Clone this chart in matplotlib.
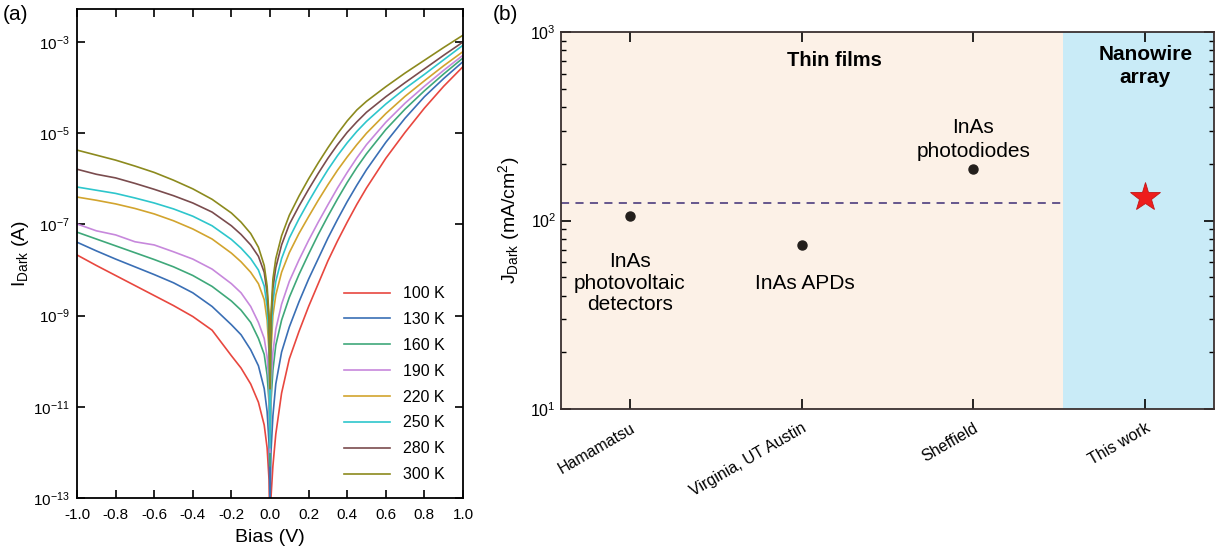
import numpy as np
import matplotlib
matplotlib.use('Agg')
import matplotlib.pyplot as plt
from matplotlib.ticker import FixedLocator, NullLocator, LogLocator, NullFormatter

plt.rcParams['font.family'] = ['Liberation Sans', 'DejaVu Sans']
plt.rcParams['mathtext.default'] = 'regular'

# ---- panel (a): dark current vs bias, log10(I) ----
bias = [-1.0, -0.9, -0.8, -0.7, -0.6, -0.5, -0.4, -0.3, -0.2, -0.15, -0.1, -0.06,
        -0.03, -0.015, -0.005, 0.0, 0.005, 0.015, 0.03, 0.06, 0.1, 0.15, 0.2, 0.25,
        0.3, 0.35, 0.4, 0.45, 0.5, 0.6, 0.7, 0.8, 0.9, 1.0]

temps = ['100 K', '130 K', '160 K', '190 K', '220 K', '250 K', '280 K', '300 K']
colors = ['#e8473f', '#3a6fb5', '#3fa87a', '#c788dc', '#d2a42e', '#2ec6cc', '#7a4c4e', '#8c8a1e']

logI_100 = [-7.67, -7.90, -8.12, -8.34, -8.56, -8.78, -9.02, -9.32, -9.88, -10.15, -10.5, -10.9,
            -11.4, -11.9, -12.6, -14.0, -13.0, -12.3, -11.6, -10.7, -9.95, -9.35, -8.8, -8.3,
            -7.8, -7.36, -6.95, -6.56, -6.2, -5.55, -4.98, -4.45, -3.97, -3.54]
logI_130 = [-7.39, -7.58, -7.76, -7.93, -8.10, -8.28, -8.50, -8.80, -9.20, -9.42, -9.75, -10.1,
            -10.6, -11.1, -11.8, -13.2, -12.0, -11.2, -10.5, -9.8, -9.25, -8.7, -8.2, -7.75,
            -7.3, -6.89, -6.5, -6.14, -5.8, -5.2, -4.67, -4.20, -3.80, -3.43]
logI_160 = [-7.17, -7.32, -7.47, -7.62, -7.77, -7.93, -8.12, -8.36, -8.68, -8.88, -9.15, -9.5,
            -9.85, -10.3, -10.9, -12.3, -10.9, -10.2, -9.65, -9.1, -8.6, -8.1, -7.65, -7.22,
            -6.82, -6.44, -6.08, -5.75, -5.45, -4.92, -4.47, -4.07, -3.70, -3.35]
logI_190 = [-6.99, -7.14, -7.23, -7.38, -7.45, -7.60, -7.76, -7.98, -8.30, -8.50, -8.80, -9.15,
            -9.5, -9.9, -10.5, -12.0, -10.5, -9.8, -9.3, -8.75, -8.25, -7.78, -7.35, -6.95,
            -6.57, -6.2, -5.86, -5.54, -5.25, -4.76, -4.34, -3.97, -3.62, -3.29]
logI_220 = [-6.40, -6.47, -6.55, -6.65, -6.77, -6.92, -7.10, -7.32, -7.63, -7.82, -8.05, -8.3,
            -8.65, -9.1, -9.8, -11.5, -9.8, -9.0, -8.55, -8.05, -7.62, -7.2, -6.83, -6.47,
            -6.13, -5.81, -5.52, -5.25, -5.0, -4.57, -4.19, -3.85, -3.52, -3.21]
logI_250 = [-6.18, -6.25, -6.32, -6.42, -6.53, -6.66, -6.82, -7.03, -7.33, -7.52, -7.75, -8.0,
            -8.35, -8.8, -9.5, -11.9, -9.5, -8.7, -8.25, -7.75, -7.3, -6.88, -6.5, -6.14,
            -5.8, -5.49, -5.21, -4.96, -4.74, -4.36, -4.02, -3.71, -3.39, -3.07]
logI_280 = [-5.79, -5.90, -5.98, -6.10, -6.23, -6.37, -6.53, -6.73, -7.03, -7.22, -7.45, -7.7,
            -8.05, -8.5, -9.1, -10.6, -9.1, -8.4, -7.95, -7.45, -7.0, -6.6, -6.23, -5.88,
            -5.55, -5.25, -4.98, -4.75, -4.54, -4.2, -3.89, -3.59, -3.29, -3.00]
logI_300 = [-5.37, -5.48, -5.59, -5.72, -5.86, -6.03, -6.22, -6.45, -6.75, -6.95, -7.2, -7.5,
            -7.9, -8.35, -9.0, -10.6, -9.0, -8.2, -7.75, -7.25, -6.8, -6.38, -6.0, -5.65,
            -5.32, -5.01, -4.73, -4.49, -4.3, -3.98, -3.68, -3.4, -3.12, -2.85]

# ---- panel (b): dark current density comparison ----
groups = ['Hamamatsu', 'Virginia, UT Austin', 'Sheffield', 'This work']
j_thin = [106, 74, 187]
j_nw = 134
j_ref = 124
notes = ['InAs\nphotovoltaic\ndetectors', 'InAs APDs', 'InAs\nphotodiodes']


def main():
    fig = plt.figure(figsize=(12.17, 5.54), dpi=100)

    # (a)
    ax = fig.add_axes([77 / 1217, 1 - 498 / 554, 386 / 1217, 489 / 554])
    curves = [logI_100, logI_130, logI_160, logI_190, logI_220, logI_250, logI_280, logI_300]
    for lab, col, li in zip(temps, colors, curves):
        ax.semilogy(bias, 10 ** np.array(li), color=col, lw=1.2, label=lab)
    ax.set_xlim(-1, 1)
    ax.set_ylim(1e-13, 5.3e-3)
    xt = np.round(np.arange(-1.0, 1.01, 0.2), 1)
    ax.xaxis.set_major_locator(FixedLocator(xt))
    ax.set_xticklabels(['%.1f' % (v + 0.0) if abs(v) > 1e-9 else '0.0' for v in xt])
    ax.yaxis.set_major_locator(FixedLocator([10.0 ** e for e in range(-13, -2, 2)]))
    ax.set_yticklabels(['$10^{%d}$' % e for e in range(-13, -2, 2)])
    ax.yaxis.set_minor_locator(NullLocator())
    ax.tick_params(which='both', direction='in', top=True, right=True, length=6,
                   width=1.2, labelsize=11)
    ax.tick_params(axis='x', pad=7)
    ax.tick_params(axis='y', pad=5)
    for s in ax.spines.values():
        s.set_linewidth(1.3)
    ax.set_xlabel('Bias (V)', fontsize=14, labelpad=5)
    ax.set_ylabel('$I_{Dark}$ (A)', fontsize=14, labelpad=2)
    ax.legend(loc='lower right', frameon=False, fontsize=11.5, handlelength=2.9,
              labelspacing=0.68, bbox_to_anchor=(0.99, 0.003))
    fig.text(15 / 1217, 1 - 15 / 554, '(a)', fontsize=15, va='center', ha='center')

    # (b)
    bx = fig.add_axes([561 / 1217, 1 - 409 / 554, 653 / 1217, 377 / 554])
    bx.axvspan(-0.4, 2.52, color='#fcf1e7', zorder=0, lw=0)
    bx.axvspan(2.52, 3.4, color='#c9ebf7', zorder=0, lw=0)
    bx.plot([-0.4, 2.52], [j_ref, j_ref], ls=(0, (4.5, 3.5)), color='#5a4a86', lw=1.3)
    bx.plot(range(3), j_thin, 'o', color='#231f1c', ms=6.5)
    bx.plot([3], [j_nw], '*', color='#ee1c1c', ms=22, mec='#c21616', mew=0.6)
    bx.set_yscale('log')
    bx.set_ylim(10, 1000)
    bx.set_xlim(-0.4, 3.4)
    bx.set_xticks(range(4))
    bx.set_xticklabels(groups, rotation=30, ha='right', rotation_mode='anchor', fontsize=11.5)
    bx.yaxis.set_major_locator(FixedLocator([10, 100, 1000]))
    bx.set_yticklabels(['$10^1$', '$10^2$', '$10^3$'])
    bx.yaxis.set_minor_locator(LogLocator(base=10, subs=np.arange(2, 10), numticks=10))
    bx.yaxis.set_minor_formatter(NullFormatter())
    bx.tick_params(which='major', direction='in', top=True, right=True, length=7,
                   width=1.2, labelsize=11.5)
    bx.tick_params(which='minor', direction='in', right=True, length=3.5, width=1)
    bx.tick_params(axis='x', pad=8)
    for s in bx.spines.values():
        s.set_linewidth(1.3)
        s.set_color('#3a3030')
    bx.set_ylabel('$J_{Dark}$ (mA/cm$^2$)', fontsize=14, labelpad=6)

    bx.text(1.19, 710, 'Thin films', fontsize=14.5, fontweight='bold', ha='center', va='center')
    bx.text(3.0, 660, 'Nanowire\narray', fontsize=15, fontweight='bold', ha='center',
            va='center', linespacing=1.3)
    bx.text(0.0, 46.6, notes[0], fontsize=15, ha='center', va='center', linespacing=1.15)
    bx.text(1.02, 46.6, notes[1], fontsize=15, ha='center', va='center')
    bx.text(2.0, 270, notes[2], fontsize=15, ha='center', va='center', linespacing=1.35)
    fig.text(505 / 1217, 1 - 15 / 554, '(b)', fontsize=15, va='center', ha='center')

    fig.savefig('out.png', dpi=100)


if __name__ == '__main__':
    main()
